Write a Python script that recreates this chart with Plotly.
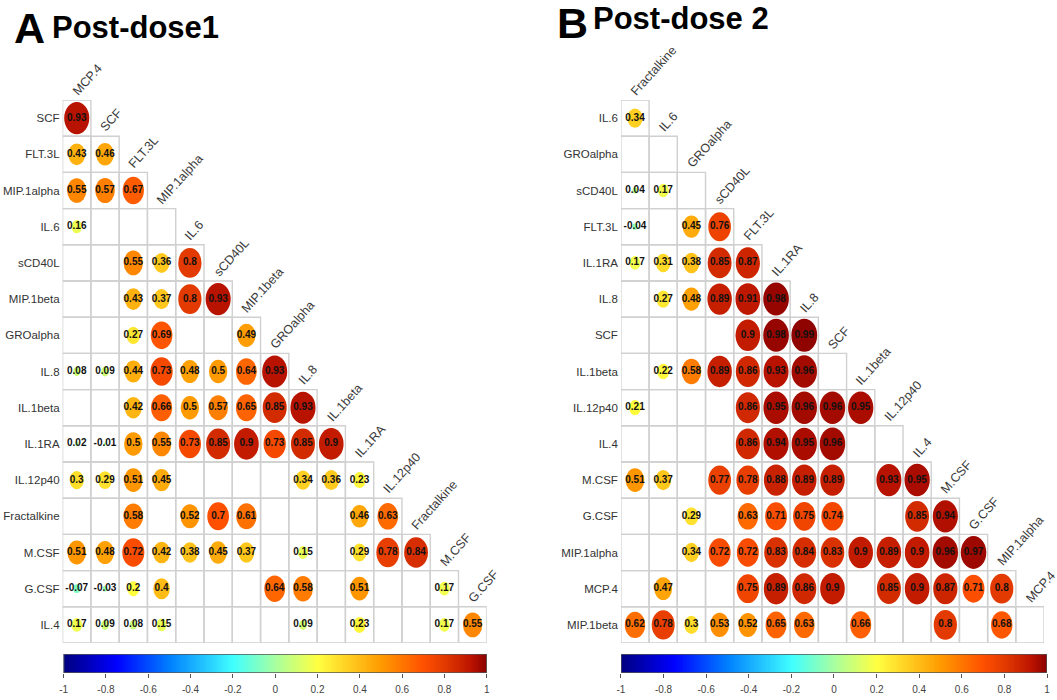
import numpy as np
import plotly.graph_objects as go
from plotly.colors import sample_colorscale

N = None

# ---------------- data ----------------
vars_A = ["MCP.4", "SCF", "FLT.3L", "MIP.1alpha", "IL.6", "sCD40L", "MIP.1beta",
          "GROalpha", "IL.8", "IL.1beta", "IL.1RA", "IL.12p40", "Fractalkine",
          "M.CSF", "G.CSF", "IL.4"]
corr_A = [
    [0.93],
    [0.43, 0.46],
    [0.55, 0.57, 0.67],
    [0.16, N, N, N],
    [N, N, 0.55, 0.36, 0.8],
    [N, N, 0.43, 0.37, 0.8, 0.93],
    [N, N, 0.27, 0.69, N, N, 0.49],
    [0.08, 0.09, 0.44, 0.73, 0.48, 0.5, 0.64, 0.93],
    [N, N, 0.42, 0.66, 0.5, 0.57, 0.65, 0.85, 0.93],
    [0.02, -0.01, 0.5, 0.55, 0.73, 0.85, 0.9, 0.73, 0.85, 0.9],
    [0.3, 0.29, 0.51, 0.45, N, N, N, N, 0.34, 0.36, 0.23],
    [N, N, 0.58, N, 0.52, 0.7, 0.61, N, N, N, 0.46, 0.63],
    [0.51, 0.48, 0.72, 0.42, 0.38, 0.45, 0.37, N, 0.15, N, 0.29, 0.78, 0.84],
    [-0.07, -0.03, 0.2, 0.4, N, N, N, 0.64, 0.58, N, 0.51, N, N, 0.17],
    [0.17, 0.09, 0.08, 0.15, N, N, N, N, 0.09, N, 0.23, N, N, 0.17, 0.55],
]

vars_B = ["Fractalkine", "IL.6", "GROalpha", "sCD40L", "FLT.3L", "IL.1RA", "IL.8",
          "SCF", "IL.1beta", "IL.12p40", "IL.4", "M.CSF", "G.CSF", "MIP.1alpha",
          "MCP.4", "MIP.1beta"]
corr_B = [
    [0.34],
    [N, N],
    [0.04, 0.17, N],
    [-0.04, N, 0.45, 0.76],
    [0.17, 0.31, 0.38, 0.85, 0.87],
    [N, 0.27, 0.48, 0.89, 0.91, 0.98],
    [N, N, N, N, 0.9, 0.98, 0.99],
    [N, 0.22, 0.58, 0.89, 0.86, 0.93, 0.96, N],
    [0.21, N, N, N, 0.86, 0.95, 0.96, 0.96, 0.95],
    [N, N, N, N, 0.86, 0.94, 0.95, 0.96, N, N],
    [0.51, 0.37, N, 0.77, 0.78, 0.88, 0.89, 0.89, N, 0.93, 0.95],
    [N, N, 0.29, N, 0.63, 0.71, 0.75, 0.74, N, N, 0.85, 0.94],
    [N, N, 0.34, 0.72, 0.72, 0.83, 0.84, 0.83, 0.9, 0.89, 0.9, 0.96, 0.97],
    [N, 0.47, N, N, 0.75, 0.89, 0.86, 0.9, N, 0.85, 0.9, 0.87, 0.71, 0.8],
    [0.62, 0.78, 0.3, 0.53, 0.52, 0.65, 0.63, N, 0.66, N, N, 0.8, N, 0.68, N],
]

colorbar_ticks = [-1, -0.8, -0.6, -0.4, -0.2, 0, 0.2, 0.4, 0.6, 0.8, 1]
titles = {"A": "Post-dose1", "B": "Post-dose 2"}

# ---------------- style ----------------
FONT = "Liberation Sans, Arial, sans-serif"
cscale = [[0, "#00007F"], [0.125, "#0000FF"], [0.25, "#007FFF"], [0.4, "#40FFFF"],
          [0.5, "#A8FFA0"], [0.6, "#FFFF40"], [0.75, "#FF9A00"], [0.85, "#FF5000"],
          [0.9, "#E23A00"], [0.93, "#D02800"], [0.965, "#B81200"], [1, "#880000"]]
W, H = 1057, 700
K = 0.92  # circle scale

fig = go.Figure()
shapes = []
annotations = []

panels = [
    dict(vars=vars_A, corr=corr_A, xa="x", ya="y", cb="x3", cby="y3"),
    dict(vars=vars_B, corr=corr_B, xa="x2", ya="y2", cb="x4", cby="y4"),
]

for p in panels:
    corr = p["corr"]
    n = len(corr)
    xs, ys, ts = [], [], []
    grid = []
    circles = []
    for i, row in enumerate(corr):
        for j, v in enumerate(row):
            grid.append(dict(type="rect", xref=p["xa"], yref=p["ya"],
                             x0=j - 0.5, x1=j + 0.5, y0=i - 0.5, y1=i + 0.5,
                             line=dict(color="#D0D0D0", width=1.4),
                             fillcolor="rgba(0,0,0,0)", layer="below"))
            if v is None:
                continue
            r = 0.5 * K * np.sqrt(abs(v))
            col = sample_colorscale(cscale, [(v + 1) / 2])[0]
            circles.append(dict(type="circle", xref=p["xa"], yref=p["ya"],
                                x0=j - r, x1=j + r, y0=i - r, y1=i + r,
                                line=dict(width=0), fillcolor=col, layer="below"))
            xs.append(j)
            ys.append(i)
            ts.append(f"<b>{v:g}</b>")
    shapes += grid + circles
    fig.add_trace(go.Scatter(x=xs, y=ys, text=ts, mode="text", xaxis=p["xa"], yaxis=p["ya"],
                             textfont=dict(family=FONT, size=10, color="#111"),
                             hoverinfo="skip", showlegend=False))
    # diagonal column labels
    for j in range(n):
        annotations.append(dict(xref=p["xa"], yref=p["ya"], x=j, y=j - 0.5,
                                text=p["vars"][j], showarrow=False, textangle=-48,
                                xanchor="left", yanchor="bottom", xshift=-10, yshift=-1,
                                font=dict(family=FONT, size=12.5, color="#3a3a3a")))
    # colour bar
    cx = np.linspace(-1, 1, 300)
    fig.add_trace(go.Heatmap(x=cx, y=[0.5], z=[cx], zmin=-1, zmax=1, colorscale=cscale,
                             showscale=False, xaxis=p["cb"], yaxis=p["cby"], hoverinfo="skip"))
    shapes.append(dict(type="rect", xref=p["cb"], yref=p["cby"], x0=-1, x1=1, y0=0, y1=1,
                       line=dict(color="#555", width=1.5)))

ydom = [1 - 643 / H, 1 - 100 / H]
cbdom = [1 - 673 / H, 1 - 654 / H]
common_y = dict(range=[14.5, -0.5], showgrid=False, zeroline=False, showline=False,
                ticks="", tickfont=dict(family=FONT, size=11.5, color="#333"),
                tickvals=list(range(15)), domain=ydom, ticklabelstandoff=2)
common_x = dict(range=[-0.5, 14.5], visible=False, showgrid=False, zeroline=False)
cb_x = dict(range=[-1, 1], showgrid=False, zeroline=False, ticks="outside", ticklen=4,
            tickcolor="#555", tickvals=colorbar_ticks,
            ticktext=[f"{t:g}" for t in colorbar_ticks], ticklabelstandoff=3,
            tickfont=dict(family=FONT, size=10, color="#444"), showline=False)
cb_y = dict(range=[0, 1], visible=False, domain=cbdom)

fig.update_layout(
    width=W, height=H, margin=dict(l=0, r=0, t=0, b=0),
    paper_bgcolor="white", plot_bgcolor="rgba(0,0,0,0)",
    xaxis=dict(**common_x, domain=[59 / W, 486 / W], anchor="y"),
    yaxis=dict(**common_y, ticktext=vars_A[1:], anchor="x"),
    xaxis2=dict(**common_x, domain=[621 / W, 1047 / W], anchor="y2"),
    yaxis2=dict(**common_y, ticktext=vars_B[1:], anchor="x2"),
    xaxis3=dict(**cb_x, domain=[60 / W, 486 / W], anchor="y3"),
    yaxis3=dict(**cb_y, anchor="x3"),
    xaxis4=dict(**cb_x, domain=[621 / W, 1050 / W], anchor="y4"),
    yaxis4=dict(**cb_y, anchor="x4"),
    shapes=shapes,
    showlegend=False,
)

# panel titles
for letter, lx, tx, ly, ty in [("A", 8, 46, 28, 27), ("B", 555, 591, 23, 19)]:
    annotations.append(dict(xref="paper", yref="paper", x=lx / W, y=1 - ly / H, text=f"<b>{letter}</b>",
                            showarrow=False, xanchor="left", yanchor="middle",
                            font=dict(family=FONT, size=43, color="#000")))
    annotations.append(dict(xref="paper", yref="paper", x=tx / W, y=1 - ty / H,
                            text=f"<b>{titles[letter]}</b>",
                            showarrow=False, xanchor="left", yanchor="middle",
                            font=dict(family=FONT, size=31, color="#000")))
fig.update_layout(annotations=annotations)

fig.write_html("out.html")
